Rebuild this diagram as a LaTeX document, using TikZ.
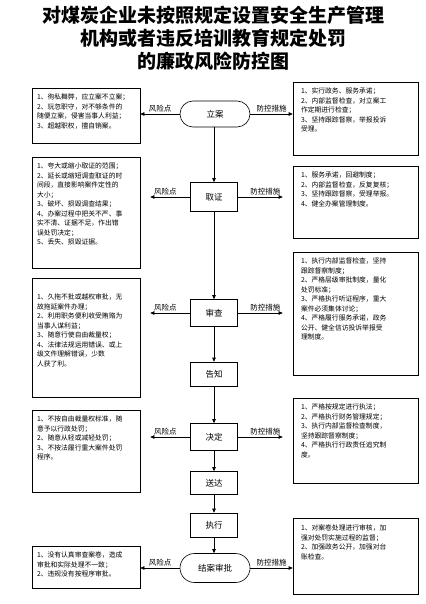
\documentclass[tikz,border=0pt]{standalone}
\usepackage{fontspec}
\newfontfamily\cjk{Noto Sans CJK SC}
\usetikzlibrary{arrows.meta,positioning,shapes}

\begin{document}
\begin{tikzpicture}[x=1pt, y=-1pt, line width=0.6pt,
  stage/.style={draw, rectangle, minimum width=47pt, minimum height=27pt,
                inner sep=0pt, font=\cjk\fontsize{8.5}{10}\selectfont},
  term/.style={draw, rounded rectangle, minimum width=70pt, minimum height=26pt,
               inner sep=0pt, font=\cjk\fontsize{8.5}{10}\selectfont},
  riskbox/.style={draw, rectangle, minimum width=108pt, inner sep=0pt},
  ctrlbox/.style={draw, rectangle, minimum width=125pt, inner sep=0pt},
  note/.style={anchor=north west, align=left, inner sep=0pt,
               font=\cjk\fontsize{6.8}{9.5}\selectfont},
  arr/.style={-{Triangle[length=4pt,width=3.5pt]}},
  lbl/.style={font=\cjk\fontsize{7.5}{9}\selectfont, above, midway, inner sep=1.5pt}
]
  \useasboundingbox (0,0) rectangle (425,604);

  % title
  \node[font=\cjk\bfseries\fontsize{19}{23}\selectfont, align=center] (title) at (213,38)
    {对煤炭企业未按照规定设置安全生产管理\\机构或者违反培训教育规定处罚\\的廉政风险防控图};

  % main flow
  \node[term]  (lian) at (215,114) {立案};
  \node[stage, minimum height=29pt] (qz) at (214,197) {取证};
  \node[stage] (sc) at (214,313) {审查};
  \node[stage, minimum height=24pt] (gz) at (214,374) {告知};
  \node[stage] (jd) at (214,437) {决定};
  \node[stage, minimum height=23pt] (sd) at (214,483) {送达};
  \node[stage, minimum height=24pt] (zx) at (214,525) {执行};
  \node[term, minimum height=29pt] (ja) at (215,568) {结案审批};

  \draw[arr] (lian.south -| qz) -- (qz);
  \draw[arr] (qz) -- (sc);
  \draw[arr] (sc) -- (gz);
  \draw[arr] (gz) -- (jd);
  \draw[arr] (jd) -- (sd);
  \draw[arr] (sd) -- (zx);
  \draw[arr] (zx) -- (ja.north -| zx);

  % risk points (left)
  \node[riskbox, minimum height=55pt] (L1) at (86,115.5) {};
  \node[note] (L1t) at ([xshift=5pt,yshift=-6pt]L1.north west)
    {1、徇私舞弊，应立案不立案；\\2、玩忽职守，对不够条件的\\随便立案，侵害当事人利益；\\3、超越职权，擅自销案。};
  \node[riskbox, minimum height=111pt] (L2) at (86,212.5) {};
  \node[note] (L2t) at ([xshift=5pt,yshift=-6pt]L2.north west)
    {1、夸大或缩小取证的范围；\\2、延长或缩短调查取证的时\\间段，直接影响案件定性的\\大小；\\3、破坏、损毁调查结果；\\4、办案过程中把关不严、事\\实不清、证据不足，作出错\\误处罚决定；\\5、丢失、损毁证据。};
  \node[riskbox, minimum height=119pt] (L3) at (86,337.5) {};
  \node[note] (L3t) at ([xshift=5pt,yshift=-16pt]L3.north west)
    {1、久拖不批或越权审批，无\\故拖延案件办理；\\2、利用职务便利收受贿赂为\\当事人谋利益；\\3、随意行使自由裁量权；\\4、法律法规运用错误、或上\\级文件理解错误，少数\\人获了利。};
  \node[riskbox, minimum height=82pt] (L4) at (86,451) {};
  \node[note] (L4t) at ([xshift=5pt,yshift=-6pt]L4.north west)
    {1、不按自由裁量权标准，随\\意予以行政处罚；\\2、随意从轻或减轻处罚；\\3、不按法履行重大案件处罚\\程序。};
  \node[riskbox, minimum height=42pt] (L5) at (86,567) {};
  \node[note] (L5t) at ([xshift=5pt,yshift=-6pt]L5.north west)
    {1、没有认真审查案卷，造成\\审批和实际处理不一致；\\2、违规没有按程序审批。};

  % control measures (right)
  \node[ctrlbox, minimum height=73pt] (R1) at (355.5,118.5) {};
  \node[note] (R1t) at ([xshift=8pt,yshift=-6pt]R1.north west)
    {1、实行政务、服务承诺；\\2、内部监督检查，对立案工\\作定期进行检查；\\3、坚持跟踪督察，举报投诉\\受理。};
  \node[ctrlbox, minimum height=72pt] (R2) at (355.5,202) {};
  \node[note] (R2t) at ([xshift=8pt,yshift=-6pt]R2.north west)
    {1、服务承诺，回避制度；\\2、内部监督检查，反复复核；\\3、坚持跟踪督察，受理举报。\\4、健全办案管理制度。};
  \node[ctrlbox, minimum height=123pt] (R3) at (355.5,313.5) {};
  \node[note] (R3t) at ([xshift=8pt,yshift=-6pt]R3.north west)
    {1、执行内部监督检查，坚持\\跟踪督察制度；\\2、严格层级审批制度，量化\\处罚标准；\\3、严格执行听证程序，重大\\案件必须集体讨论；\\4、严格履行服务承诺，政务\\公开、健全信访投诉举报受\\理制度。};
  \node[ctrlbox, minimum height=85pt] (R4) at (355.5,440.5) {};
  \node[note] (R4t) at ([xshift=8pt,yshift=-6pt]R4.north west)
    {1、严格按规定进行执法；\\2、严格执行财务管理规定；\\3、执行内部监督检查制度，\\坚持跟踪督察制度；\\4、严格执行行政责任追究制\\度。};
  \node[ctrlbox, minimum height=76pt] (R5) at (355.5,556) {};
  \node[note] (R5t) at ([xshift=8pt,yshift=-7pt]R5.north west)
    {1、对案卷处理进行审核，加\\强对处罚实施过程的监督；\\2、加强政务公开，加强对台\\账检查。};

  % side arrows
  \draw[arr] (lian.west) -- node[lbl]{风险点} (lian.west -| L1.east);
  \draw[arr] (lian.east) -- node[lbl]{防控措施} (lian.east -| R1.west);
  \draw[arr, shorten >=10pt] (qz.west) -- node[lbl]{风险点} (qz.west -| L2.east);
  \draw[arr, shorten >=10pt] (qz.east) -- node[lbl]{防控措施} (qz.east -| R2.west);
  \draw[arr, shorten >=10pt] (sc.west) -- node[lbl]{风险点} (sc.west -| L3.east);
  \draw[arr, shorten >=10pt] (sc.east) -- node[lbl]{防控措施} (sc.east -| R3.west);
  \draw[arr, shorten >=10pt] (jd.west) -- node[lbl]{风险点} (jd.west -| L4.east);
  \draw[arr, shorten >=10pt] (jd.east) -- node[lbl]{防控措施} (jd.east -| R4.west);
  \draw[arr] (ja.west) -- node[lbl]{风险点} (ja.west -| L5.east);
  \draw[arr] (ja.east) -- node[lbl]{防控措施} (ja.east -| R5.west);
\end{tikzpicture}
\end{document}
